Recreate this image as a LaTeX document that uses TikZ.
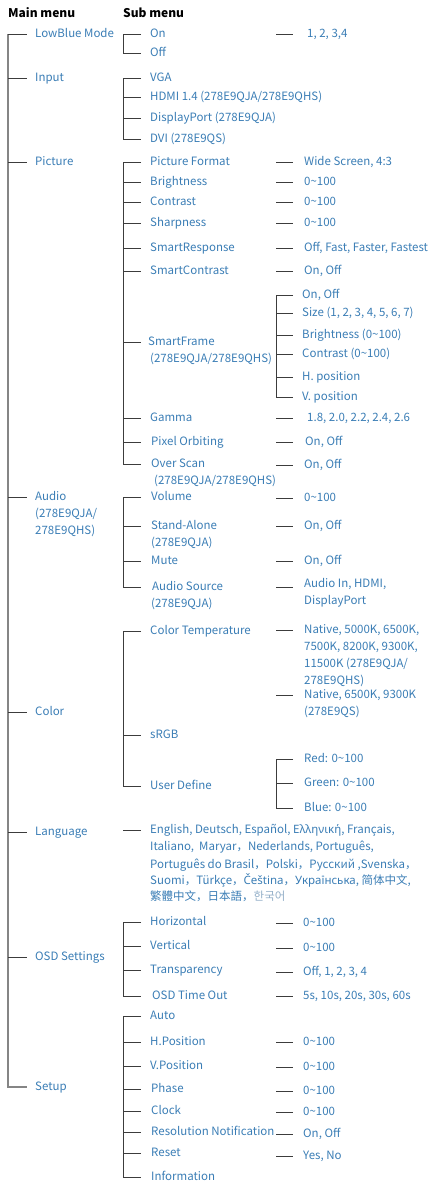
\documentclass[tikz,border=0pt]{standalone}
\usepackage{fontspec}
\setmainfont{Noto Sans CJK SC}
\newfontfamily\accfont{Noto Sans}
\usepackage{tikz}
\usetikzlibrary{positioning}
\definecolor{menublue}{HTML}{3A7DB5}
\definecolor{hangul}{HTML}{93AFC8}
\definecolor{stubgray}{HTML}{3C3C3C}
\definecolor{trunkgray}{HTML}{858585}
\newcommand{\rng}{0\textasciitilde100}

\begin{document}
\begin{tikzpicture}[x=1pt, y=-1pt,
  every node/.style={anchor=west, inner sep=0pt, text height=8.5pt, text depth=2pt,
    font=\fontsize{11.5}{14}\selectfont, text=menublue},
  head/.style={text=black, font=\fontsize{12}{14}\selectfont\bfseries},
  stub/.style={draw=stubgray, line width=0.9pt},
  trunk/.style={draw=trunkgray, line width=1.6pt}]
  \useasboundingbox (0,0) rectangle (432,1181);

  % column guides
  \coordinate (tk) at (8,0);
  \coordinate (tke) at (27,0);
  \coordinate (sb) at (123,0);
  \coordinate (sbe) at (141,0);
  \coordinate (vb) at (276,0);
  \coordinate (vbe) at (293,0);

  % Headings
  \node[head] (mainhd) at (8,14) {Main menu};
  \node[head] (subhd) at (123,14) {Sub menu};

  % Main menu (left)
  \node (low) at (35,34) {LowBlue Mode};
  \node (input) at (35,78) {Input};
  \node (pict) at (35,162) {Picture};
  \node (audio) at (35,497) {Audio};
  \node (audiob) at (35,514) {(278E9QJA/};
  \node (audioc) at (35,531) {278E9QHS)};
  \node (color) at (35,712) {Color};
  \node (lang) at (35,832) {Language};
  \node (osd) at (35,957) {OSD Settings};
  \node (setup) at (35,1087) {Setup};
  \draw[trunk] (tk |- low) -- (tk |- setup) -- (tke |- setup);
  \draw[stub] (tk |- low) -- (tke |- low);
  \draw[stub] (tk |- input) -- (tke |- input);
  \draw[stub] (tk |- pict) -- (tke |- pict);
  \draw[stub] (tk |- audio) -- (tke |- audio);
  \draw[stub] (tk |- color) -- (tke |- color);
  \draw[stub] (tk |- lang) -- (tke |- lang);
  \draw[stub] (tk |- osd) -- (tke |- osd);

  % LowBlue Mode
  \node (on) at (150,34) {On};
  \node (off) at (150,53) {Off};
  \node (vlow) at (307,34) {1, 2, 3,4};
  \draw[stub] (sbe |- on) -| (sb |- off) -- (sbe |- off);
  \draw[stub] (vb |- vlow) -- (vbe |- vlow);

  % Input
  \node (vga) at (150,78) {VGA};
  \node (hdmi) at (150,97) {HDMI 1.4 (278E9QJA/278E9QHS)};
  \node (dp) at (150,118) {DisplayPort (278E9QJA)};
  \node (dvi) at (150,139) {DVI (278E9QS)};
  \draw[stub] (sbe |- vga) -| (sb |- dvi) -- (sbe |- dvi)
    (sb |- hdmi) -- (sbe |- hdmi) (sb |- dp) -- (sbe |- dp);

  % Picture
  \node (pfmt) at (150,162) {Picture Format};
  \node (pbri) at (150,182) {Brightness};
  \node (pcon) at (150,202) {Contrast};
  \node (psha) at (150,223) {Sharpness};
  \node (presp) at (150,248) {SmartResponse};
  \node (pscon) at (150,271) {SmartContrast};
  \node (pfrm) at (148,342) {SmartFrame};
  \node (pfrmb) at (150,359) {(278E9QJA/278E9QHS)};
  \node (pgam) at (150,418) {Gamma};
  \node (porb) at (151,442) {Pixel Orbiting};
  \node (povs) at (151,464) {Over Scan};
  \node (povsb) at (154,481) {(278E9QJA/278E9QHS)};
  \draw[stub] (sbe |- pfmt) -| (sb |- povs) -- (sbe |- povs)
    (sb |- pbri) -- (sbe |- pbri) (sb |- pcon) -- (sbe |- pcon)
    (sb |- psha) -- (sbe |- psha) (sb |- presp) -- (sbe |- presp)
    (sb |- pscon) -- (sbe |- pscon) (sb |- pfrm) -- (sbe |- pfrm)
    (sb |- pgam) -- (sbe |- pgam) (sb |- porb) -- (sbe |- porb);

  \node (vpfmt) at (304,162) {Wide Screen, 4:3};
  \node (vpbri) at (304,182) {\rng};
  \node (vpcon) at (304,202) {\rng};
  \node (vpsha) at (304,223) {\rng};
  \node (vpresp) at (304,248) {Off, Fast, Faster, Fastest};
  \node (vpscon) at (304,271) {On, Off};
  \node (vpgam) at (307,418) {1.8, 2.0, 2.2, 2.4, 2.6};
  \node (vporb) at (305,442) {On, Off};
  \node (vpovs) at (304,465) {On, Off};
  \draw[stub] (vb |- vpfmt) -- (vbe |- vpfmt);
  \draw[stub] (vb |- vpbri) -- (vbe |- vpbri);
  \draw[stub] (vb |- vpcon) -- (vbe |- vpcon);
  \draw[stub] (vb |- vpsha) -- (vbe |- vpsha);
  \draw[stub] (vb |- vpresp) -- (vbe |- vpresp);
  \draw[stub] (vb |- vpscon) -- (vbe |- vpscon);
  \draw[stub] (vb |- vpgam) -- (vbe |- vpgam);
  \draw[stub] (vb |- vporb) -- (vbe |- vporb);
  \draw[stub] (vb |- vpovs) -- (vbe |- vpovs);

  % SmartFrame options
  \node (fr1) at (302,295) {On, Off};
  \node (fr2) at (302,313) {Size (1, 2, 3, 4, 5, 6, 7)};
  \node (fr3) at (302,335) {Brightness (0\textasciitilde100)};
  \node (fr4) at (302,354) {Contrast (0\textasciitilde100)};
  \node (fr5) at (302,377) {H. position};
  \node (fr6) at (302,397) {V. position};
  \draw[stub] (vbe |- fr1) -| (vb |- fr6) -- (vbe |- fr6)
    (vb |- fr2) -- (vbe |- fr2) (vb |- fr3) -- (vbe |- fr3)
    (vb |- fr4) -- (vbe |- fr4) (vb |- fr5) -- (vbe |- fr5);

  % Audio
  \node (avol) at (151,497) {Volume};
  \node (astd) at (151,526) {Stand-Alone};
  \node (astdb) at (151,543) {(278E9QJA)};
  \node (amute) at (151,561) {Mute};
  \node (asrc) at (152,587) {Audio Source};
  \node (asrcb) at (151,604) {(278E9QJA)};
  \draw[stub] (sbe |- avol) -| (sb |- asrc) -- (sbe |- asrc)
    (sb |- astd) -- (sbe |- astd) (sb |- amute) -- (sbe |- amute);

  \node (vavol) at (304,498) {\rng};
  \node (vastd) at (304,526) {On, Off};
  \node (vamute) at (304,561) {On, Off};
  \node (vasrc) at (304,584) {Audio In, HDMI,};
  \node (vasrcb) at (304,601) {DisplayPort};
  \draw[stub] (vb |- vavol) -- (vbe |- vavol);
  \draw[stub] (vb |- vastd) -- (vbe |- vastd);
  \draw[stub] (vb |- vamute) -- (vbe |- vamute);
  \draw[stub] (vb |- asrc) -- (vbe |- asrc);

  % Color
  \node (ctemp) at (150,631) {Color Temperature};
  \node (csrgb) at (150,735) {sRGB};
  \node (cuser) at (150,786) {User Define};
  \draw[stub] (sbe |- ctemp) -| (sb |- cuser) -- (sbe |- cuser)
    (sb |- csrgb) -- (sbe |- csrgb);

  \node (vct1) at (304,630) {Native, 5000K, 6500K,};
  \node (vct2) at (304,647) {7500K, 8200K, 9300K,};
  \node (vct3) at (304,664) {11500K (278E9QJA/};
  \node (vct4) at (304,681) {278E9QHS)};
  \node (vct5) at (304,695) {Native, 6500K, 9300K};
  \node (vct6) at (304,712) {(278E9QS)};
  \draw[stub] (vb |- vct1) -- (vbe |- vct1);
  \draw[stub] (vb |- vct5) -- (vbe |- vct5);

  \node (ud1) at (304,759) {Red: \rng};
  \node (ud2) at (304,783) {Green: \rng};
  \node (ud3) at (304,808) {Blue: \rng};
  \draw[stub] (vbe |- ud1) -| (vb |- ud3) -- (vbe |- ud3)
    (vb |- ud2) -- (vbe |- ud2);

  % Language
  \node (ll1) at (150,830) {English, Deutsch, Español, {\accfont Ελληνική}, Français,};
  \node (ll2) at (150,847) {Italiano,\ \ Maryar，Nederlands, Português,};
  \node (ll3) at (150,865) {Português do Brasil，Polski，Русский ,Svenska，};
  \node (ll4) at (150,881) {Suomi，Türkçe，{\accfont Čeština}，{\accfont Українська}, 简体中文,};
  \node (ll5) at (150,897) {繁體中文，日本語，\textcolor{hangul}{한국어}};
  \draw[stub] (sb |- ll1) -- (sbe |- ll1);

  % OSD Settings
  \node (oh) at (150,922) {Horizontal};
  \node (ov) at (150,946) {Vertical};
  \node (otr) at (150,970) {Transparency};
  \node (oto) at (152,996) {OSD Time Out};
  \draw[stub] (sbe |- oh) -| (sb |- oto) -- (sbe |- oto)
    (sb |- ov) -- (sbe |- ov) (sb |- otr) -- (sbe |- otr);

  \node (voh) at (303,923) {\rng};
  \node (vov) at (303,948) {\rng};
  \node (votr) at (303,972) {Off, 1, 2, 3, 4};
  \node (voto) at (303,996) {5s, 10s, 20s, 30s, 60s};
  \draw[stub] (vb |- voh) -- (vbe |- voh);
  \draw[stub] (vb |- vov) -- (vbe |- vov);
  \draw[stub] (vb |- votr) -- (vbe |- votr);
  \draw[stub] (vb |- voto) -- (vbe |- voto);

  % Setup
  \node (sauto) at (150,1016) {Auto};
  \node (shp) at (150,1042) {H.Position};
  \node (svp) at (150,1066) {V.Position};
  \node (sph) at (151,1089) {Phase};
  \node (sclk) at (151,1111) {Clock};
  \node (sres) at (151,1132) {Resolution Notification};
  \node (srst) at (151,1153) {Reset};
  \node (sinf) at (151,1177) {Information};
  \draw[stub] (sbe |- sauto) -| (sb |- sinf) -- (sbe |- sinf)
    (sb |- shp) -- (sbe |- shp) (sb |- svp) -- (sbe |- svp)
    (sb |- sph) -- (sbe |- sph) (sb |- sclk) -- (sbe |- sclk)
    (sb |- sres) -- (sbe |- sres) (sb |- srst) -- (sbe |- srst);

  \node (vshp) at (303,1042) {\rng};
  \node (vsvp) at (303,1067) {\rng};
  \node (vsph) at (303,1091) {\rng};
  \node (vsclk) at (303,1112) {\rng};
  \node (vsres) at (303,1134) {On, Off};
  \node (vsrst) at (303,1156) {Yes, No};
  \draw[stub] (vb |- vshp) -- (vbe |- vshp);
  \draw[stub] (vb |- vsvp) -- (vbe |- vsvp);
  \draw[stub] (vb |- vsph) -- (vbe |- vsph);
  \draw[stub] (vb |- vsclk) -- (vbe |- vsclk);
  \draw[stub] (vb |- vsres) -- (vbe |- vsres);
  \draw[stub] (vb |- vsrst) -- (vbe |- vsrst);
\end{tikzpicture}
\end{document}
